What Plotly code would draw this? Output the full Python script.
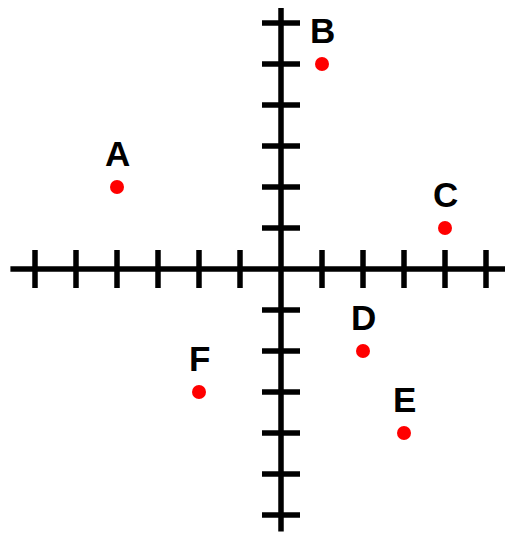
import plotly.graph_objects as go

labels = ["A", "B", "C", "D", "E", "F"]
x_vals = [-4, 1, 4, 2, 3, -2]
y_vals = [2, 5, 1, -2, -4, -3]

x_ticks = [-6, -5, -4, -3, -2, -1, 1, 2, 3, 4, 5]
y_ticks = [-6, -5, -4, -3, -2, -1, 1, 2, 3, 4, 5, 6]

UNIT = 41.0  # px per unit
OX, OY = 273, 261  # origin in figure px (page adds 8px body margin)
TICK = 19 / UNIT
LW = 5.5

fig = go.Figure()

shapes = [
    dict(type="line", x0=-6.6, x1=5.6, y0=0, y1=0, line=dict(color="black", width=LW)),
    dict(type="line", x0=0, x1=0, y0=-6.4, y1=6.37, line=dict(color="black", width=LW)),
]
for t in x_ticks:
    shapes.append(dict(type="line", x0=t, x1=t, y0=-TICK, y1=TICK,
                       line=dict(color="black", width=LW)))
for t in y_ticks:
    shapes.append(dict(type="line", x0=-TICK, x1=TICK, y0=t, y1=t,
                       line=dict(color="black", width=LW)))

fig.add_trace(go.Scatter(
    x=x_vals, y=y_vals, mode="markers",
    marker=dict(color="#ff0000", size=14, line=dict(width=0)),
    hoverinfo="skip",
))

for lab, x, y in zip(labels, x_vals, y_vals):
    fig.add_annotation(x=x, y=y, text=f"<b>{lab}</b>", showarrow=False,
                       yshift=34, font=dict(family="Liberation Sans, Arial", size=35, color="black"))

fig.update_layout(
    width=513, height=537,
    margin=dict(l=0, r=0, t=0, b=0),
    paper_bgcolor="white", plot_bgcolor="white",
    showlegend=False,
    shapes=shapes,
    xaxis=dict(range=[-OX / UNIT, (513 - OX) / UNIT], visible=False, fixedrange=True),
    yaxis=dict(range=[-(537 - OY) / UNIT, OY / UNIT], visible=False, fixedrange=True),
)

fig.write_html("out.html")
